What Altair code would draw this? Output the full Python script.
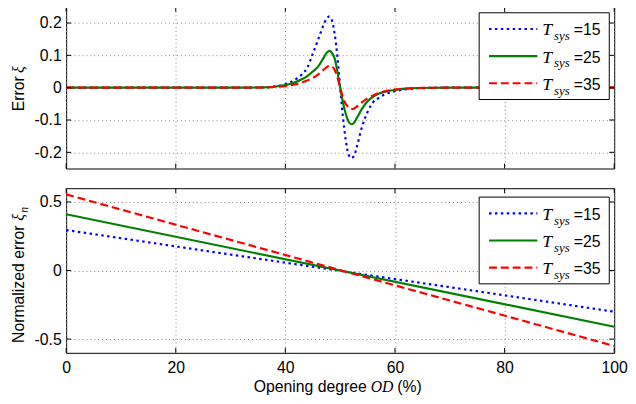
import altair as alt
import pandas as pd

# ---------------- data ----------------
od = [0, 30, 36, 38, 40, 42, 43, 44, 45, 46, 47, 47.5, 48, 48.5, 49, 49.5, 50,
      50.5, 51, 51.5, 52, 52.5, 53, 54, 55, 56, 57, 58, 60, 62, 64, 70, 100]
err_t15 = [0, 0, 0.001, 0.004, 0.011, 0.027, 0.041, 0.062, 0.105, 0.15, 0.195, 0.213,
           0.22, 0.208, 0.165, 0.095, 0.0, -0.09, -0.16, -0.205, -0.218, -0.212, -0.185,
           -0.12, -0.075, -0.045, -0.032, -0.022, -0.011, -0.005, -0.002, 0, 0]
err_t25 = [0, 0, 0.001, 0.003, 0.008, 0.018, 0.026, 0.036, 0.05, 0.066, 0.093, 0.107,
           0.114, 0.108, 0.09, 0.05, 0.0, -0.045, -0.08, -0.104, -0.113, -0.109, -0.095,
           -0.065, -0.042, -0.028, -0.019, -0.013, -0.007, -0.003, -0.001, 0, 0]
err_t35 = [0, 0, 0.0005, 0.002, 0.005, 0.011, 0.016, 0.022, 0.03, 0.041, 0.056, 0.063,
           0.068, 0.065, 0.055, 0.032, 0.0, -0.03, -0.05, -0.061, -0.066, -0.065, -0.059,
           -0.045, -0.033, -0.024, -0.017, -0.012, -0.006, -0.003, -0.001, 0, 0]

od_lin = [0, 100]
norm_t15 = [0.295, -0.30]
norm_t25 = [0.41, -0.41]
norm_t35 = [0.555, -0.55]

series_names = ["15", "25", "35"]
x_ticks = [0, 20, 40, 60, 80, 100]
y_ticks_top = [-0.2, -0.1, 0, 0.1, 0.2]
y_ticks_bot = [-0.5, 0, 0.5]

# ---------------- styling ----------------
W = 556
H_TOP = 164
H_BOT = 167
COLORS = ["#0000ff", "#008000", "#ff0000"]
DASHES = [[2.5, 3.5], None, [8, 4]]
LW = 2.2
TICK = 5
SANS = "Liberation Sans"
SERIF = "Liberation Serif"

xs = alt.Scale(domain=[0, 100], nice=False, zero=False)
ys_top = alt.Scale(domain=[-0.25, 0.25], nice=False, zero=False)
ys_bot = alt.Scale(domain=[-0.6, 0.6], nice=False, zero=False)

LABEL_EXPR = ("datum.value == 0 ? '0' : (datum.value < 0 ? '-' + format(-datum.value, '.1f')"
              " : format(datum.value, '.1f'))")

ONE = alt.Data(values=[{"k": 0}])


def line_opts(i):
    o = dict(color=COLORS[i], strokeWidth=LW, interpolate="monotone")
    if DASHES[i] is not None:
        o["strokeDash"] = DASHES[i]
    return o


def panel(xvals, ylists, ys, yticks, H, show_x_labels, legend_top):
    xax = alt.Axis(values=x_ticks, format="d", labels=show_x_labels, ticks=False,
                   domain=False, grid=True, title=None, labelFlush=False,
                   labelOverlap=False, labelPadding=7)
    yax = alt.Axis(values=yticks, labelExpr=LABEL_EXPR, ticks=False, domain=False,
                   grid=True, title=None, labelFlush=False, labelOverlap=False,
                   labelPadding=5)
    layers = []
    for i, yl in enumerate(ylists):
        df = pd.DataFrame({"od": xvals, "val": yl})
        layers.append(
            alt.Chart(df).mark_line(**line_opts(i)).encode(
                x=alt.X("od:Q", scale=xs, axis=xax),
                y=alt.Y("val:Q", scale=ys, axis=yax),
            )
        )
    # inward ticks on all four sides
    ydf = pd.DataFrame({"v": yticks})
    xdf = pd.DataFrame({"v": x_ticks})
    for xa, xb in [(0, TICK), (W - TICK, W)]:
        layers.append(alt.Chart(ydf).mark_rule(color="black", strokeWidth=1).encode(
            y=alt.Y("v:Q", scale=ys, axis=yax), x=alt.value(xa), x2=alt.value(xb)))
    for ya, yb in [(0, TICK), (H - TICK, H)]:
        layers.append(alt.Chart(xdf).mark_rule(color="black", strokeWidth=1).encode(
            x=alt.X("v:Q", scale=xs, axis=xax), y=alt.value(ya), y2=alt.value(yb)))
    # legend
    bx0, bx1 = 419, 551
    layers.append(alt.Chart(ONE).mark_rect(fill="white", stroke="black", strokeWidth=1).encode(
        x=alt.value(bx0), x2=alt.value(bx1), y=alt.value(legend_top), y2=alt.value(legend_top + 88)))
    for i, name in enumerate(series_names):
        ly = legend_top + 16.5 + 27.5 * i
        ro = dict(color=COLORS[i], strokeWidth=LW)
        if DASHES[i] is not None:
            ro["strokeDash"] = DASHES[i]
        layers.append(alt.Chart(ONE).mark_rule(**ro).encode(
            x=alt.value(bx0 + 10), x2=alt.value(bx0 + 59), y=alt.value(ly)))
        layers.append(alt.Chart(ONE).mark_text(
            text="T", font=SERIF, fontStyle="italic", fontSize=18, align="left",
            baseline="alphabetic", color="black").encode(
            x=alt.value(bx0 + 64), y=alt.value(ly + 6.5)))
        layers.append(alt.Chart(ONE).mark_text(
            text="sys", font=SERIF, fontStyle="italic", fontSize=13, align="left",
            baseline="alphabetic", color="black").encode(
            x=alt.value(bx0 + 76), y=alt.value(ly + 11.5)))
        layers.append(alt.Chart(ONE).mark_text(
            text="=" + name, font=SANS, fontSize=16, align="left",
            baseline="alphabetic", color="black").encode(
            x=alt.value(bx0 + 96), y=alt.value(ly + 6.5)))
    return layers


def vtext(txt, x, y, font=SANS, size=16, italic=False):
    kw = dict(text=txt, font=font, fontSize=size, angle=270, align="left",
              baseline="alphabetic", color="black")
    if italic:
        kw["fontStyle"] = "italic"
    return alt.Chart(ONE).mark_text(**kw).encode(x=alt.value(x), y=alt.value(y))


def htext(txt, x, y, align="left", font=SANS, size=16, italic=False):
    kw = dict(text=txt, font=font, fontSize=size, align=align,
              baseline="alphabetic", color="black")
    if italic:
        kw["fontStyle"] = "italic"
    return alt.Chart(ONE).mark_text(**kw).encode(x=alt.value(x), y=alt.value(y))


top_layers = panel(od, [err_t15, err_t25, err_t35], ys_top, y_ticks_top, H_TOP, False, 6)
top_layers += [
    vtext("Error", -43, 106),
    vtext("\u03be", -43, 67, font=SERIF, italic=True),
]
top = alt.layer(*top_layers).properties(width=W, height=H_TOP)

bot_layers = panel(od_lin, [norm_t15, norm_t25, norm_t35], ys_bot, y_ticks_bot, H_BOT, True, 9)
bot_layers += [
    vtext("Normalized error", -43, 157),
    vtext("\u03be", -43, 33, font=SERIF, italic=True),
    vtext("n", -39, 25, font=SERIF, size=12, italic=True),
    htext("Opening degree", 305, 207, align="right"),
    htext("OD", 309, 207, font=SERIF, size=16, italic=True),
    htext("(%)", 336, 207),
]
bottom = alt.layer(*bot_layers).properties(width=W, height=H_BOT)

chart = alt.vconcat(top, bottom, spacing=18).properties(
    padding={"left": 2, "top": -5, "right": 0, "bottom": 0},
    background="white",
).configure_view(stroke="black", strokeWidth=1).configure_axis(
    gridColor="#888888", gridDash=[1, 3], gridWidth=1, gridOpacity=1,
    labelFont=SANS, labelFontSize=16, labelColor="black"
)

chart.save("out.html", embed_options={"renderer": "svg", "actions": False})
